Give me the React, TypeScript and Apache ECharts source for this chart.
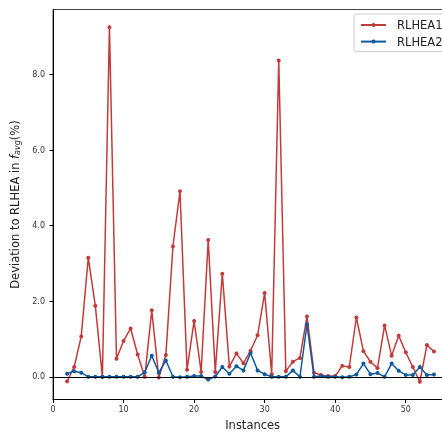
import React, { useEffect, useRef } from "react";
import * as echarts from "echarts";

const instances = [2,3,4,5,6,7,8,9,10,11,12,13,14,15,16,17,18,19,20,21,22,23,24,25,26,27,28,29,30,31,32,33,34,35,36,37,38,39,40,41,42,43,44,45,46,47,48,49,50,51,52,53,54];
const rlhea1 = [-0.12,0.26,1.07,3.15,1.88,0.0,9.25,0.48,0.95,1.28,0.59,0.0,1.76,-0.02,0.58,3.45,4.91,0.19,1.48,0.13,3.62,0.13,2.73,0.27,0.62,0.36,0.69,1.10,2.22,0.07,8.37,0.15,0.40,0.50,1.60,0.11,0.05,0.02,0.02,0.29,0.26,1.57,0.68,0.40,0.23,1.36,0.56,1.09,0.65,0.26,-0.13,0.84,0.67];
const rlhea2 = [0.08,0.15,0.11,0.0,0.0,0.0,0.0,0.0,0.0,0.0,0.0,0.12,0.56,0.11,0.43,0.0,-0.01,0.0,0.02,0.02,-0.07,0.01,0.26,0.08,0.28,0.17,0.63,0.17,0.07,0.0,0.0,0.0,0.17,0.0,1.39,0.0,0.02,0.0,0.0,-0.01,0.0,0.06,0.35,0.07,0.1,0.0,0.35,0.16,0.05,0.05,0.26,0.05,0.06];
const xTicks = [0, 10, 20, 30, 40, 50];
const yTicks = [0, 2, 4, 6, 8];
const seriesNames = ["RLHEA1", "RLHEA2"];

const RED = "#c23b3b";
const BLUE = "#0f5a9b";
const FONT = "DejaVu Sans";

export default function App() {
  const ref = useRef<HTMLDivElement>(null);
  useEffect(() => {
    if (!ref.current) return;
    const chart = echarts.init(ref.current, undefined, { renderer: "svg" });
    const mk = (vals: number[]) => instances.map((x, i) => [x, vals[i]]);
    chart.setOption({
      animation: false,
      textStyle: { fontFamily: FONT },
      grid: {
        left: 53,
        right: 17.7,
        top: 9.5,
        bottom: 32.5,
        show: true,
        borderColor: "#444",
        borderWidth: 1,
        containLabel: false,
        outerBoundsMode: "none",
      },
      legend: {
        left: 354,
        top: 14,
        orient: "vertical",
        data: seriesNames,
        backgroundColor: "#fff",
        borderColor: "#cccccc",
        borderWidth: 1,
        borderRadius: 3,
        padding: [5, 6, 4, 6],
        itemWidth: 25,
        itemHeight: 5,
        itemGap: 4.6,
        textStyle: { fontFamily: FONT, fontSize: 11.5, color: "#222", lineHeight: 12, padding: [0, 0, 0, 6] },
      },
      xAxis: {
        type: "value",
        min: 0,
        max: 56.6,
        name: "Instances",
        nameLocation: "middle",
        nameGap: 19,
        nameTextStyle: { fontFamily: FONT, fontSize: 11.5, color: "#222" },
        axisLine: { onZero: false, lineStyle: { color: "#000", width: 1 } },
        axisTick: { show: true, length: 3.5, customValues: xTicks, lineStyle: { color: "#000" } },
        axisLabel: { customValues: xTicks, fontFamily: FONT, fontSize: 8, color: "#333", margin: 6 },
        splitLine: { show: false },
      },
      yAxis: {
        type: "value",
        min: -0.6,
        max: 9.72,
        name: "Deviation to RLHEA in {i|f}{sub|avg}(%)",
        nameLocation: "middle",
        nameRotate: 90,
        nameGap: 30,
        nameTextStyle: {
          fontFamily: FONT,
          fontSize: 11.5,
          color: "#222",
          rich: {
            i: { fontFamily: FONT, fontSize: 11.5, fontStyle: "italic", color: "#222" },
            sub: { fontFamily: FONT, fontSize: 8, fontStyle: "italic", color: "#222", verticalAlign: "bottom", padding: [5, 0, 0, 0] },
          },
        },
        axisLine: { show: true, onZero: false, lineStyle: { color: "#000", width: 1 } },
        axisTick: { show: true, length: 3.5, customValues: yTicks, lineStyle: { color: "#000" } },
        axisLabel: {
          customValues: yTicks,
          fontFamily: FONT,
          fontSize: 8,
          color: "#333",
          margin: 8,
          formatter: (v: number) => v.toFixed(1),
        },
        splitLine: { show: false },
      },
      series: [
        {
          name: seriesNames[0],
          type: "line",
          data: mk(rlhea1),
          color: RED,
          symbol: "circle",
          symbolSize: 4,
          showAllSymbol: true,
          lineStyle: { width: 1.5, color: RED },
          itemStyle: { color: RED },
          z: 2,
          markLine: {
            silent: true,
            symbol: "none",
            label: { show: false },
            lineStyle: { color: "#000", type: "solid", width: 1 },
            data: [{ yAxis: 0 }],
          },
        },
        {
          name: seriesNames[1],
          type: "line",
          data: mk(rlhea2),
          color: BLUE,
          symbol: "circle",
          symbolSize: 4,
          showAllSymbol: true,
          lineStyle: { width: 1.5, color: BLUE },
          itemStyle: { color: BLUE },
          z: 3,
        },
      ],
    });
    return () => chart.dispose();
  }, []);
  return <div ref={ref} style={{ position: "fixed", left: 0, top: 0, width: 470, height: 432 }} />;
}
